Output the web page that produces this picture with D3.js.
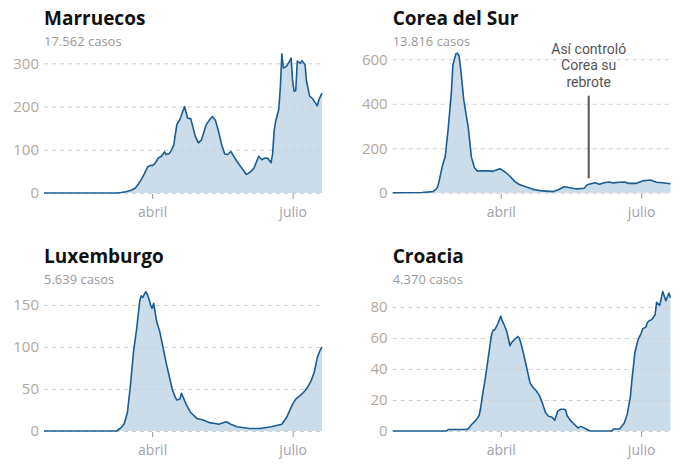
<!DOCTYPE html>
<html><head><meta charset="utf-8">
<script src="https://cdn.jsdelivr.net/npm/d3@7"></script>
<style>
html,body{margin:0;padding:0;background:#fff;}
svg{display:block;}
</style></head>
<body>
<svg id="chart" width="700" height="472"></svg>
<script>
// ---------- DATA ----------
const countries = ["Marruecos", "Corea del Sur", "Luxemburgo", "Croacia"];
const totalCases = ["17.562 casos", "13.816 casos", "5.639 casos", "4.370 casos"];
const xTickDates = ["2020-04-01", "2020-07-01"];
const xTickLabels = ["abril", "julio"];
const dateDomain = ["2020-01-22", "2020-07-20"];

const marruecosDates = ["01-22","03-09","03-12","03-15","03-18","03-21","03-23","03-25","03-27","03-29","03-31","04-01","04-03","04-05","04-07","04-09","04-10","04-12","04-13","04-15","04-17","04-19","04-22","04-24","04-26","04-29","05-01","05-03","05-06","05-08","05-10","05-12","05-14","05-16","05-18","05-20","05-22","05-24","05-26","05-29","06-01","06-02","06-04","06-06","06-09","06-11","06-13","06-15","06-17","06-18","06-19","06-20","06-22","06-23","06-24","06-25","06-27","06-29","06-30","07-01","07-02","07-03","07-04","07-06","07-07","07-09","07-10","07-12","07-14","07-15","07-17","07-18","07-20"];
const marruecosValues = [0,0,1,3,6,11,20,31,45,60,64,63,69,81,85,95,89,91,96,110,158,170,200,173,172,131,116,123,158,168,177,168,143,112,90,89,96,84,73,58,43,45,50,58,85,77,81,80,70,90,143,166,193,243,322,289,293,305,312,258,235,237,305,300,306,297,258,224,218,212,202,216,231];

const coreaDates = ["01-22","02-10","02-17","02-19","02-20","02-21","02-23","02-24","02-25","02-27","02-29","03-01","03-03","03-04","03-05","03-06","03-08","03-11","03-13","03-15","03-17","03-20","03-24","03-27","03-31","04-01","04-04","04-07","04-10","04-13","04-22","04-28","05-05","05-08","05-12","05-15","05-20","05-25","05-27","06-01","06-04","06-07","06-10","06-13","06-17","06-20","06-23","06-28","07-02","07-07","07-11","07-15","07-20"];
const coreaValues = [0,1,5,15,25,50,115,140,160,291,450,575,625,627,615,560,420,291,160,112,97,99,98,96,107,106,92,74,51,37,15,8,5,12,27,23,17,20,36,45,38,45,48,44,47,48,42,42,53,57,47,45,40];

const luxemburgoDates = ["01-22","03-09","03-12","03-14","03-16","03-18","03-20","03-22","03-24","03-25","03-26","03-27","03-28","03-29","03-30","03-31","04-01","04-02","04-04","04-06","04-08","04-10","04-12","04-14","04-16","04-17","04-19","04-20","04-23","04-26","04-30","05-04","05-08","05-12","05-14","05-19","05-22","05-26","06-03","06-10","06-17","06-24","06-27","06-29","07-01","07-03","07-05","07-07","07-09","07-11","07-13","07-15","07-17","07-19","07-20"];
const luxemburgoValues = [0,0,4,9,22,55,95,122,155,161,159,163,166,162,157,150,146,152,130,118,100,82,66,50,40,37,38,45,32,22,15,13,10,9,8,11,8,5,3,3,5,8,16,24,32,38,41,44,48,53,60,70,88,97,100];

const croaciaDates = ["01-22","02-26","02-27","03-10","03-11","03-13","03-16","03-18","03-19","03-20","03-22","03-24","03-26","03-27","03-28","03-30","04-01","04-02","04-03","04-05","04-07","04-08","04-10","04-12","04-13","04-14","04-16","04-18","04-20","04-22","04-24","04-26","04-28","04-30","05-02","05-04","05-06","05-07","05-08","05-10","05-12","05-13","05-14","05-16","05-18","05-21","05-23","05-25","05-27","05-29","06-12","06-13","06-17","06-20","06-22","06-24","06-25","06-27","06-29","07-01","07-02","07-04","07-05","07-06","07-08","07-10","07-11","07-13","07-15","07-16","07-17","07-19","07-20"];
const croaciaValues = [0,0,1,1,1.5,4,7,10,15,22,34,48,62,65,65,69,74,71,69,64,55,57,59,61,60,57,49,40,31,28,26,23,18,12,9.5,9,7,10,13,14,14,13.5,10,7,5,2,3,2,1,0,0,1.3,1.3,5,11,22,33,51,59,63,66,67,70,71,72,75,83,81,90,87,84,89,86];

const yTicksList = [[0,100,200,300],[0,200,400,600],[0,50,100,150],[0,20,40,60,80]];
const annotationLines = ["Así controló", "Corea su", "rebrote"];
const annotationDate = "2020-05-28";

// ---------- LAYOUT ----------
const layout = [
  {x0:44,    x1:322,   yZero:193,   yTopVal:300, yTopPx:63.3, titleY:25,  subY:46},
  {x0:392.7, x1:670.5, yZero:192.7, yTopVal:600, yTopPx:59.3, titleY:25,  subY:46},
  {x0:44,    x1:322,   yZero:431,   yTopVal:150, yTopPx:305,  titleY:263, subY:283.5},
  {x0:392.7, x1:670.5, yZero:431,   yTopVal:80,  yTopPx:307,  titleY:263, subY:283.5}
];

const parse = d3.timeParse("%Y-%m-%d");
const seriesDates = [marruecosDates, coreaDates, luxemburgoDates, croaciaDates];
const seriesValues = [marruecosValues, coreaValues, luxemburgoValues, croaciaValues];

const svg = d3.select("#chart");

countries.forEach((name, i) => {
  const L = layout[i];
  const data = seriesDates[i].map((d, j) => ({date: parse("2020-" + d), value: seriesValues[i][j]}));
  const x = d3.scaleTime().domain(dateDomain.map(parse)).range([L.x0, L.x1]);
  const y = d3.scaleLinear().domain([0, L.yTopVal]).range([L.yZero, L.yTopPx]);
  const g = svg.append("g");

  // area
  g.append("path").datum(data)
    .attr("d", d3.area().x(d => x(d.date)).y0(y(0)).y1(d => y(d.value)))
    .attr("fill", "#cbdceb");

  // gridlines + y labels
  const yAxis = g.append("g").attr("transform", `translate(${L.x0},0)`)
    .call(d3.axisLeft(y).tickValues(yTicksList[i]).tickSize(-(L.x1 - L.x0)).tickPadding(5).tickFormat(d3.format("d")));
  yAxis.select(".domain").remove();
  yAxis.selectAll(".tick line").attr("stroke", "#cfcfcf").attr("stroke-dasharray", "4,4").attr("stroke-width", 1);
  yAxis.selectAll(".tick text").attr("fill", "#b3a89c").attr("font-family", "'Open Sans', sans-serif").attr("font-size", 15);

  // x axis
  const xAxis = g.append("g").attr("transform", `translate(0,${L.yZero})`)
    .call(d3.axisBottom(x).tickValues(xTickDates.map(parse)).tickFormat((d, k) => xTickLabels[k]).tickSize(5));
  xAxis.select(".domain").remove();
  xAxis.selectAll(".tick line").attr("stroke", "#999").attr("y1", 1).attr("y2", 6);
  xAxis.selectAll(".tick text").attr("dy", null).attr("y", 24).attr("fill", "#a4a2ad")
    .attr("font-family", "'Open Sans', sans-serif").attr("font-size", 14);

  // line
  g.append("path").datum(data)
    .attr("d", d3.line().x(d => x(d.date)).y(d => y(d.value)))
    .attr("fill", "none").attr("stroke", "#1b5d93").attr("stroke-width", 1.6).attr("stroke-linejoin", "round");

  // titles
  g.append("text").attr("x", L.x0).attr("y", L.titleY).text(name)
    .attr("font-family", "'Open Sans', sans-serif").attr("font-weight", 700).attr("font-size", 19).attr("fill", "#111");
  g.append("text").attr("x", L.x0).attr("y", L.subY).text(totalCases[i])
    .attr("font-family", "'Open Sans', sans-serif").attr("font-size", 13).attr("fill", "#999");

  // annotation (Corea)
  if (i === 1) {
    const ax = x(parse(annotationDate));
    g.append("line").attr("x1", ax).attr("x2", ax).attr("y1", 95.7).attr("y2", 178.3)
      .attr("stroke", "#555").attr("stroke-width", 2);
    annotationLines.forEach((t, k) => {
      g.append("text").attr("x", ax).attr("y", 53.5 + k * 16.7).attr("text-anchor", "middle").text(t)
        .attr("font-family", "Roboto, sans-serif").attr("font-size", 14).attr("fill", "#555");
    });
  }
});
</script>
</body></html>
